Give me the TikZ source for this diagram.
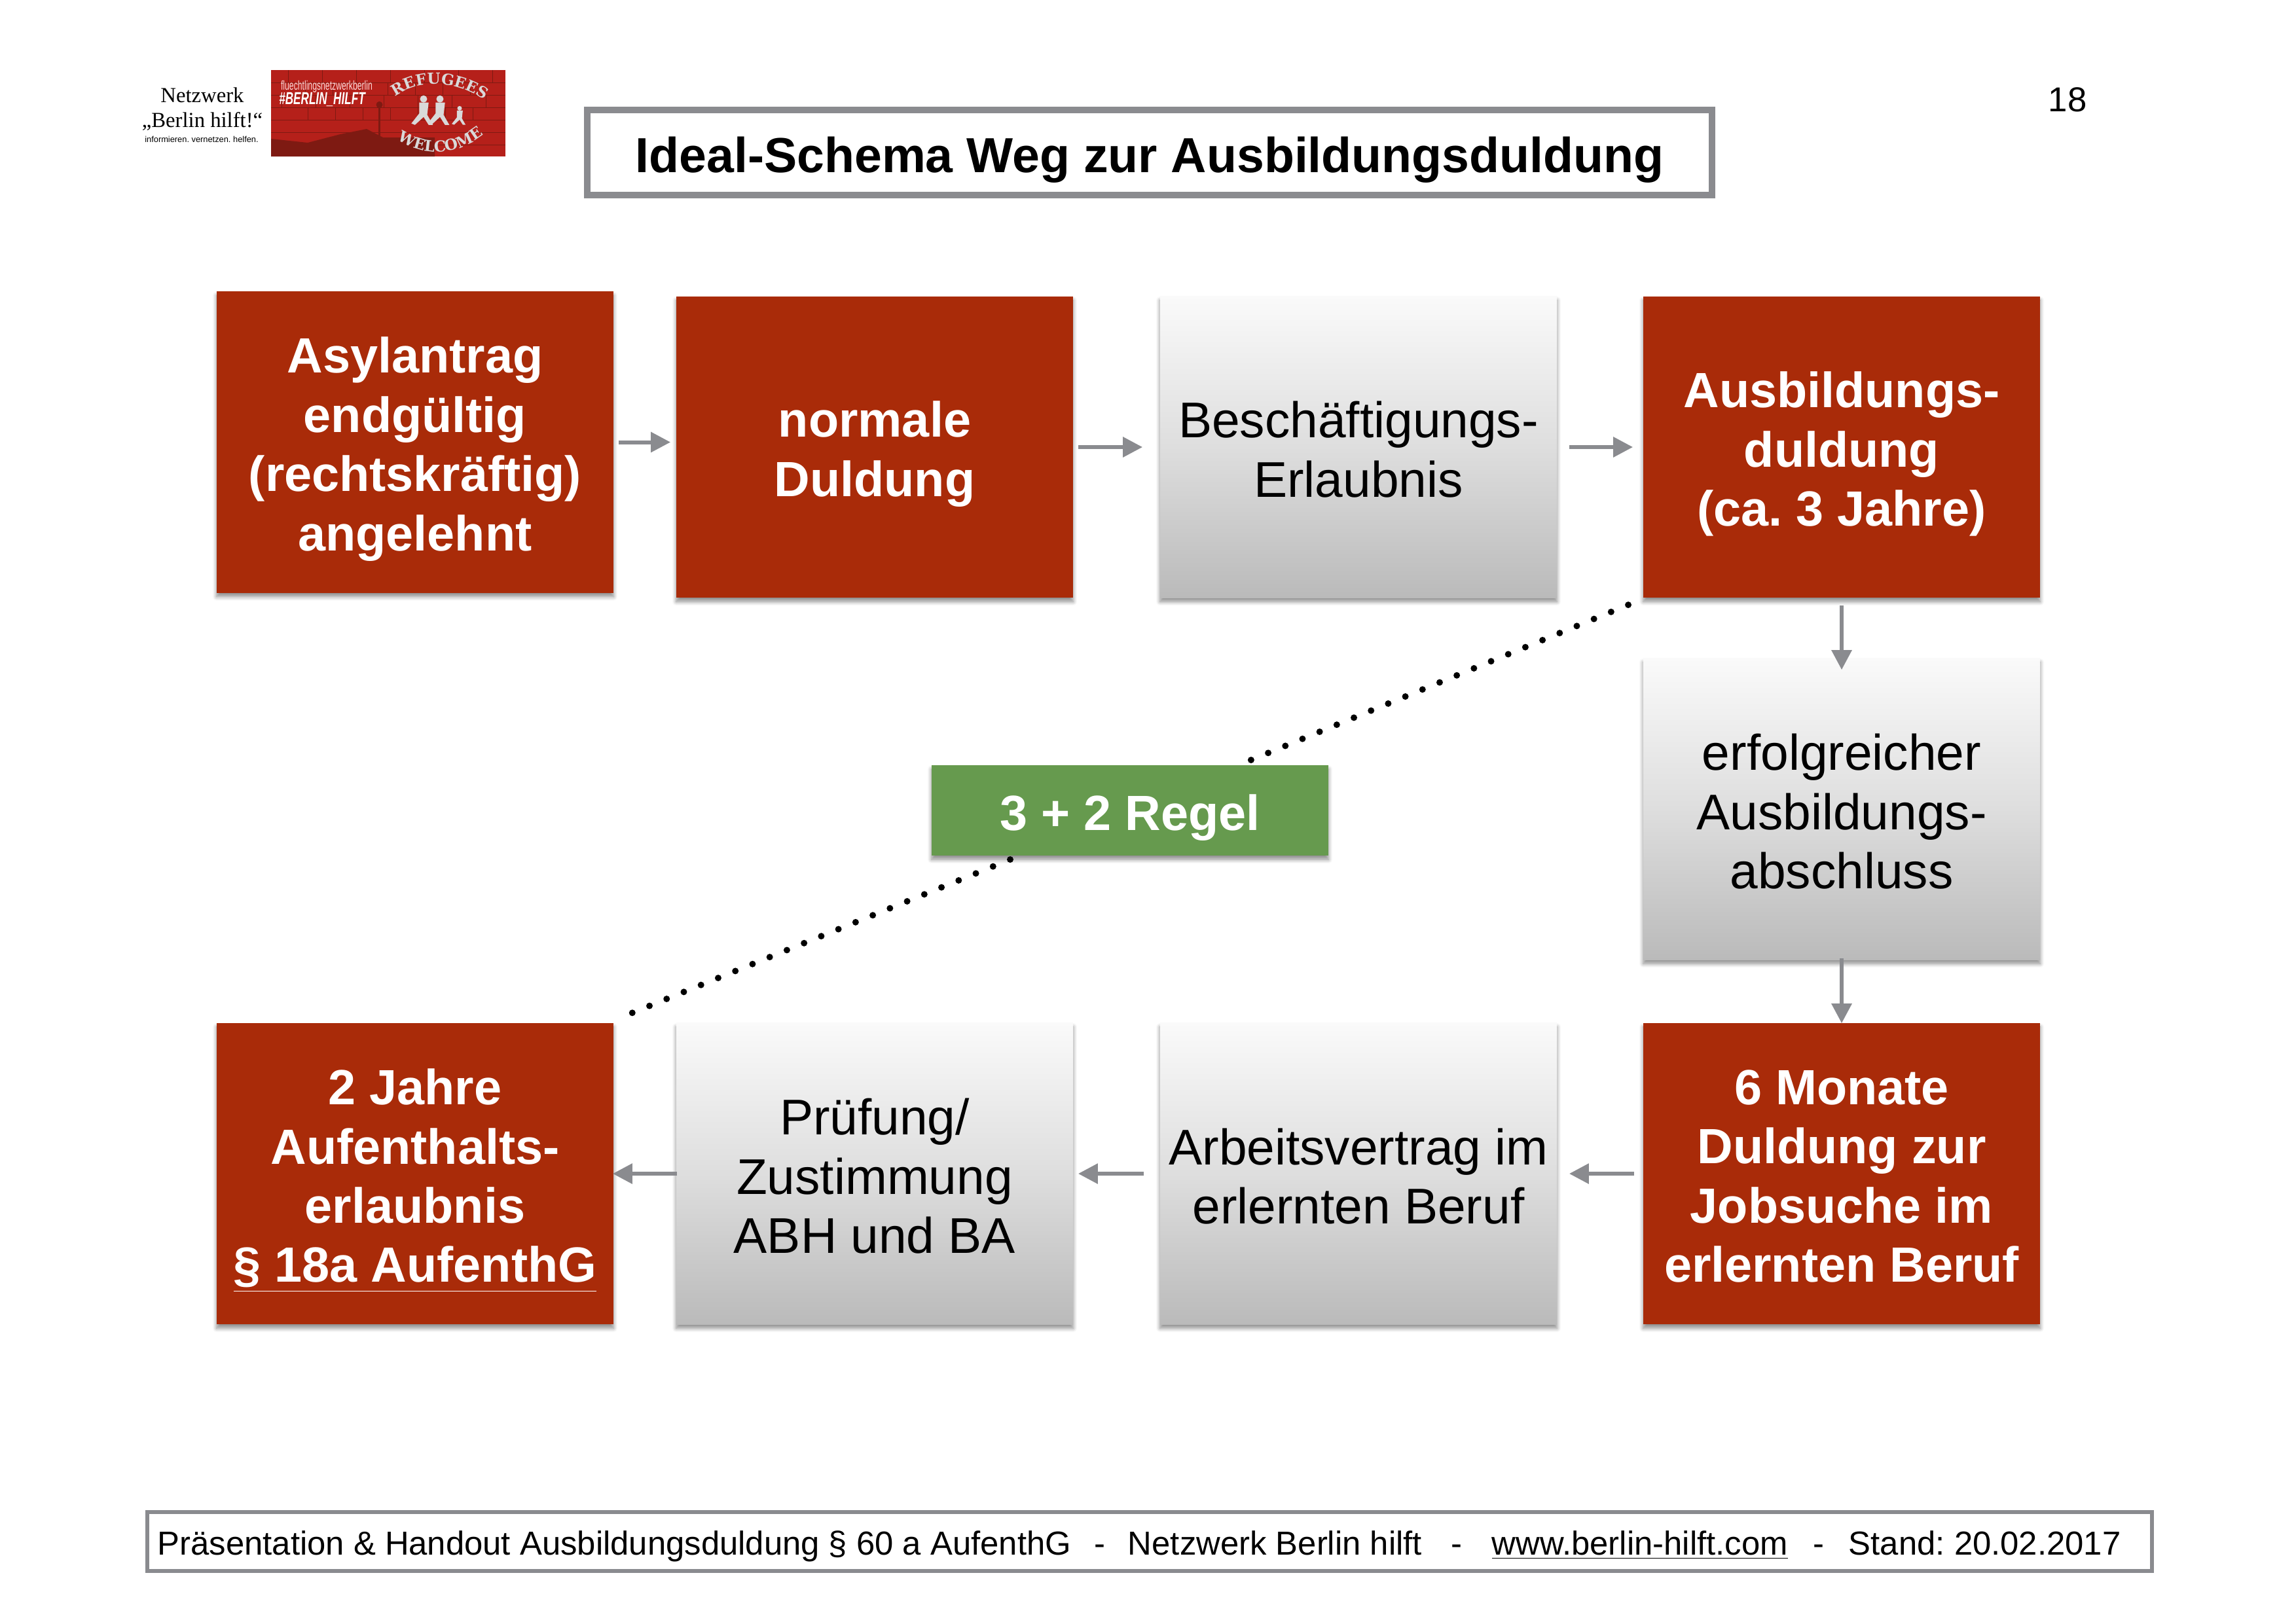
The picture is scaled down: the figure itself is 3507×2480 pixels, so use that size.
\documentclass[tikz,border=0pt]{standalone}
\usepackage{fontspec}
\setmainfont{Liberation Sans}
\newfontfamily\logoserif{Liberation Serif}
\newfontfamily\logoslab{DejaVu Serif}
\usetikzlibrary{arrows.meta,shadows.blur,decorations.text}
\definecolor{boxred}{HTML}{A92B09}
\definecolor{boxgreen}{HTML}{669A4E}
\definecolor{linegray}{HTML}{8A8B8F}
\definecolor{brickred}{HTML}{B5201A}
\definecolor{brickdark}{HTML}{7E1A12}
\newcommand{\redtop}{\rule{0pt}{.76cm}}
\newcommand{\graytop}{\rule{0pt}{.63cm}}
\tikzstyle{arrow} = [line width=.06cm,linegray,-{Triangle[length=.3cm,width=.3cm]}]
\tikzstyle{dots} = [line width=.1cm,line cap=round,dash pattern=on 0pt off .283cm]
\tikzstyle{softshadow} = [blur shadow={shadow xshift=0cm,shadow yshift=-.06cm,shadow blur radius=.06cm,shadow blur steps=6,shadow opacity=45}]
\tikzstyle{boxtext} = [minimum width=6.06cm,minimum height=4.6cm,inner sep=0pt,align=center,font=\fontsize{21.8}{25.7}\selectfont]
\tikzstyle{redbox} = [boxtext,softshadow,fill=boxred,text=white,font=\fontsize{21.5}{25.7}\selectfont\bfseries]
\tikzstyle{graybox} = [boxtext,softshadow,top color=white!98!black,bottom color=black!27,middle color=black!13]
\begin{document}
\frenchspacing
\begin{tikzpicture}[x=.01cm,y=-.01cm]
\useasboundingbox (0,0) rectangle (3507,2480);
\node[name=page,minimum width=3pt,inner sep=0pt,font=\fontsize{15}{18}\selectfont] at (3158,152) {18};
\fill[brickred] (414,107) rectangle (772,239);
\foreach \i in {1,...,6}{
	\draw[brickdark,line width=.008cm] (414,107+\i*19) -- (772,107+\i*19);
}
\foreach \i in {0,...,6}{
	\draw[brickdark,line width=.008cm] (440+\i*52,107) -- (440+\i*52,126);
	\draw[brickdark,line width=.008cm] (466+\i*42,126) -- (466+\i*42,145);
	\draw[brickdark,line width=.008cm] (430+\i*52,145) -- (430+\i*52,164);
	\draw[brickdark,line width=.008cm] (470+\i*42,164) -- (470+\i*42,183);
}
\fill[brickdark] (414,239) -- (414,212) -- (470,218) -- (520,205) -- (560,197) -- (585,210) -- (664,210) -- (664,239) -- cycle;
\fill[brickdark] (578,155) rectangle (581,215);
\fill[brickdark] (579.5,160) circle (5);
\node[name=nw,inner sep=0pt,font=\logoserif\fontsize{9.3}{11}\selectfont] at (309,145) {Netzwerk};
\node[name=bh,inner sep=0pt,font=\logoserif\fontsize{9.3}{11}\selectfont] at (309,185) {„Berlin hilft!“};
\node[name=inf,inner sep=0pt,font=\fontsize{3.65}{5}\selectfont] at (308,213) {informieren. vernetzen. helfen.};
\node[name=fnb,inner sep=0pt,text=white!85!red,font=\fontsize{5.6}{7}\selectfont] at (499,132) {\scalebox{.62}[1]{fluechtlingsnetzwerkberlin}};
\node[name=bhl,inner sep=0pt,text=white,font=\fontsize{7.5}{9}\selectfont\bfseries\itshape] at (492,152) {\scalebox{.65}[1]{\#BERLIN\_HILFT}};
\path[postaction={decorate},decoration={text along path,text align=center,text={|\logoslab\bfseries\fontsize{6.6}{9}\selectfont\color{black!15}|REFUGEES}}] (592,158) .. controls (630,118) and (700,118) .. (752,162);
\path[postaction={decorate},decoration={text along path,text align=center,text={|\logoslab\bfseries\fontsize{6.6}{9}\selectfont\color{black!15}|WELCOME}}] (596,204) .. controls (640,243) and (700,243) .. (750,196);
\foreach \px/\py/\ps in {647/160/1.1,672/160/1.1,702/171/.7}{
	\fill[black!15] (\px,\py-8*\ps) circle (5*\ps);
	\fill[black!15] (\px-6*\ps,\py-3*\ps) -- (\px+7*\ps,\py-3*\ps) -- (\px+5*\ps,\py+14*\ps) -- (\px+13*\ps,\py+28*\ps) -- (\px+7*\ps,\py+28*\ps) -- (\px,\py+17*\ps) -- (\px-12*\ps,\py+28*\ps) -- (\px-17*\ps,\py+26*\ps) -- (\px-6*\ps,\py+12*\ps) -- cycle;
}
\node[name=ttl,draw=linegray,line width=.1cm,minimum width=17.17cm,minimum height=1.3cm,inner sep=0pt,font=\fontsize{21.4}{26}\selectfont\bfseries] at (1756,233) {\redtop Ideal-Schema Weg zur Ausbildungsduldung};
\node[redbox] (asyl) at (634,675.5) {\redtop Asylantrag\\endgültig\\(rechtskräftig)\\angelehnt};
\node[redbox] (norm) at (1336,683) {\redtop normale\\Duldung};
\node[graybox] (besch) at (2075,683) {\graytop Beschäftigungs-\\Erlaubnis};
\node[redbox] (ausb) at (2813,683) {\redtop Ausbildungs-\\duldung\\(ca. 3 Jahre)};
\node[graybox] (erfolg) at (2813,1236) {\graytop erfolgreicher\\Ausbildungs-\\abschluss};
\node[redbox] (monate) at (2813,1793) {\redtop 6 Monate\\Duldung zur\\Jobsuche im\\erlernten Beruf\rule[-.16cm]{0pt}{0pt}};
\node[graybox] (vertrag) at (2075,1793) {\graytop Arbeitsvertrag im\\erlernten Beruf};
\node[graybox] (pruef) at (1336,1793) {\graytop Prüfung/\\Zustimmung\\ABH und BA};
\node[redbox] (jahre) at (634,1793) {\redtop 2 Jahre\\Aufenthalts-\\erlaubnis\\\underline{§ 18a AufenthG}};
\node[softshadow,fill=boxgreen,text=white,minimum width=6.06cm,minimum height=1.38cm,inner sep=0pt,font=\fontsize{21.5}{25.7}\selectfont\bfseries] (regel) at (1726,1238) {\redtop 3 + 2 Regel};
\draw[arrow,shorten <=.07cm,shorten >=.08cm] (asyl.east) -- (norm.west |- asyl.east);
\draw[arrow,shorten <=.07cm,shorten >=.26cm] (norm) -- (besch);
\draw[arrow,shorten <=.18cm,shorten >=.15cm] (besch) -- (ausb);
\draw[arrow,shorten <=.11cm,shorten >=-.18cm] (ausb) -- (erfolg);
\draw[arrow,shorten <=-.03cm,shorten >=-.01cm] (erfolg) -- (monate);
\draw[arrow,shorten <=.13cm,shorten >=.18cm] (monate) -- (vertrag);
\draw[arrow,shorten <=.24cm,shorten >=.07cm] (vertrag) -- (pruef);
\draw[arrow,shorten <=-.02cm,shorten >=-.02cm] (pruef) -- (jahre);
\coordinate (dotA) at (2487,924);
\coordinate (dotB) at (1906,1163);
\coordinate (dotC) at (1543,1313);
\coordinate (dotD) at (964,1548);
\draw[dots] (dotA) -- (dotB);
\draw[dots] (dotC) -- (dotD);
\node[name=foot,draw=linegray,line width=.06cm,minimum width=30.6cm,minimum height=.9cm,inner sep=0pt,font=\fontsize{14.45}{18}\selectfont] at (1756,2355) {\rule{0pt}{.51cm}Präsentation \& Handout Ausbildungsduldung § 60 a AufenthG\hspace{.35cm}-\hspace{.35cm}Netzwerk Berlin hilft\hspace{.45cm}-\hspace{.45cm}\underline{www.berlin-hilft.com}\hspace{.38cm}-\hspace{.38cm}Stand: 20.02.2017\hspace*{.32cm}};
\end{tikzpicture}
\end{document}
